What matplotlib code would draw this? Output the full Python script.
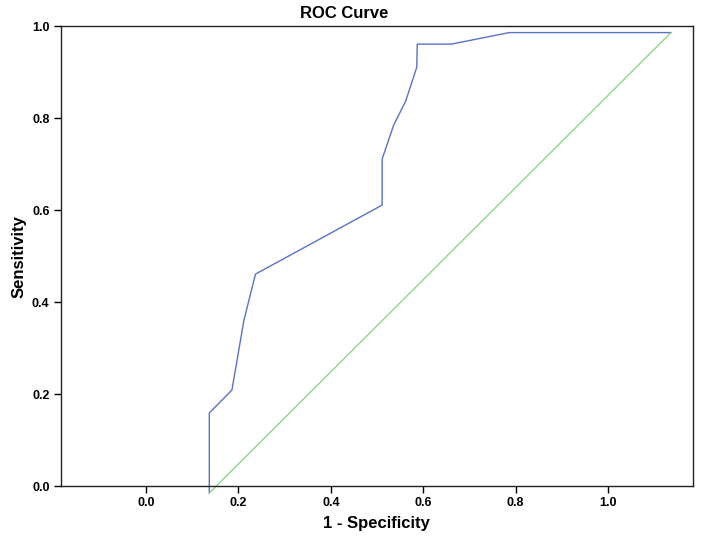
import numpy as np
import matplotlib.pyplot as plt

plt.rcParams['font.family'] = ['Liberation Sans', 'DejaVu Sans']

# curva ROC (coordenadas tal como se dibujan en los ejes)
fpr = [0.137, 0.137, 0.186, 0.212, 0.237, 0.511, 0.511, 0.536, 0.562, 0.586, 0.587, 0.661, 0.786, 1.136]
tpr = [-0.015, 0.159, 0.209, 0.361, 0.461, 0.611, 0.711, 0.785, 0.837, 0.911, 0.961, 0.961, 0.986, 0.986]

# linea de referencia (diagonal)
ref_x = [0.137, 1.136]
ref_y = [-0.015, 0.986]

ticks = [0.0, 0.2, 0.4, 0.6, 0.8, 1.0]

fig = plt.figure(figsize=(7.08, 5.45), dpi=100)
ax = fig.add_axes([0.0857, 0.108, 0.8933, 0.844])

ax.plot(fpr, tpr, '-', color='#5a72c8', lw=1.0, clip_on=False)
ax.plot(ref_x, ref_y, '-', color='#7fd67f', lw=0.9, clip_on=False)

ax.set_xlim(-0.1846, 1.184)
ax.set_ylim(0, 1.0)
ax.set_xticks(ticks)
ax.set_yticks(ticks)
ax.set_xticklabels([f'{t:.1f}' for t in ticks], fontsize=9, fontweight='bold')
ax.set_yticklabels([f'{t:.1f}' for t in ticks], fontsize=9, fontweight='bold')
ax.tick_params(direction='out', length=5, width=1, pad=3)

for s in ax.spines.values():
    s.set_linewidth(1.0)
    s.set_color('#222222')

ax.set_xlabel('1 - Specificity', fontsize=12, fontweight='bold', labelpad=5)
ax.set_ylabel('Sensitivity', fontsize=12, fontweight='bold', labelpad=4)
fig.text(344 / 708, 1 - 13 / 545, 'ROC Curve', ha='center', va='center',
         fontsize=12, fontweight='bold')

fig.savefig('out.png', dpi=100)
